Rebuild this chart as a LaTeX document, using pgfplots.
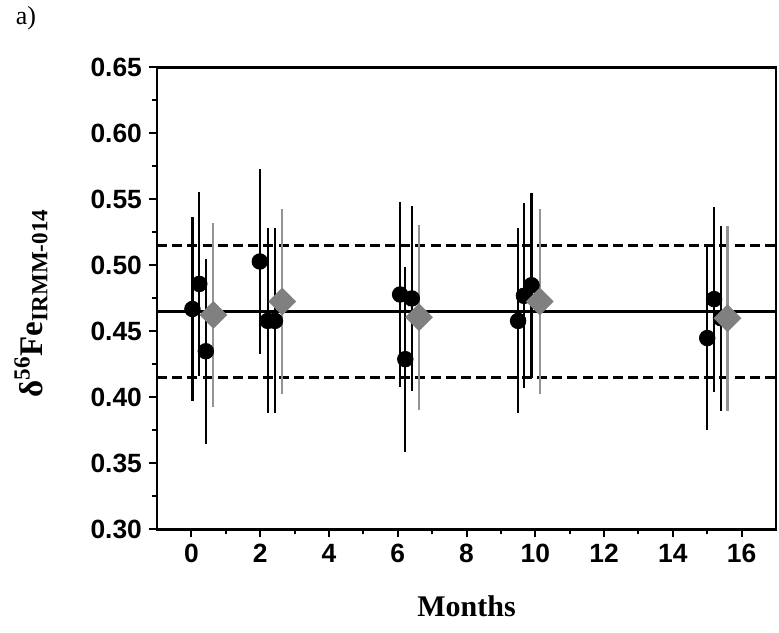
\documentclass[border=0pt]{standalone}
\usepackage{pgfplots}
\pgfplotsset{compat=1.18}
\usepackage{pgfplotstable}
\usepackage{fontspec}
\setmainfont{Liberation Serif}
\newfontfamily\arialfont{Liberation Sans}
\pgfplotstableread{
x y ey
0.03 0.467 0.07
0.23 0.486 0.07
0.42 0.435 0.07
1.99 0.503 0.07
2.22 0.458 0.07
2.43 0.458 0.07
6.07 0.478 0.07
6.22 0.429 0.07
6.41 0.475 0.07
9.50 0.458 0.07
9.67 0.477 0.07
9.89 0.485 0.07
15.00 0.445 0.07
15.20 0.4745 0.07
15.40 0.460 0.07
}\blackdata
\pgfplotstableread{
x y ey
0.64 0.4625 0.07
2.64 0.4727 0.07
6.62 0.4608 0.07
10.13 0.4727 0.07
15.59 0.460 0.07
}\graydata
\begin{document}
\begin{tikzpicture}
\begin{axis}[
  scale only axis,
  width=309.5pt, height=231pt,
  xmin=-1, xmax=17, ymin=0.30, ymax=0.65,
  xtick={0,2,...,16},
  ytick={0.30,0.35,...,0.66},
  minor x tick num=1,
  minor y tick num=1,
  tick align=outside,
  xtick pos=bottom, ytick pos=left,
  major tick length=4pt, minor tick length=2.5pt,
  every tick/.style={black, line width=1pt},
  axis line style={line width=1.4pt},
  /pgf/number format/assume math mode=true,
  yticklabel style={/pgf/number format/.cd, fixed, fixed zerofill, precision=2},
  ticklabel style={font=\arialfont\bfseries\fontsize{13.2}{15}\selectfont},
  xlabel={\textbf{Months}},
  ylabel={\textbf{δ\textsuperscript{56}Fe\textsubscript{IRMM-014}}},
  every axis x label/.style={at={(axis description cs:0.5,0)}, anchor=center, yshift=-38.5pt, font=\fontsize{15}{17}\selectfont},
  every axis y label/.style={at={(axis description cs:0,0.49)}, anchor=center, rotate=90, yshift=63pt, font=\fontsize{16.5}{18}\selectfont},
  clip=false,
]
\addplot[black, line width=1.2pt, forget plot] coordinates {(-1,0.465) (17,0.465)};
\addplot[black, line width=1.2pt, dash pattern=on 5pt off 2.6pt, forget plot] coordinates {(-1,0.515) (17,0.515)};
\addplot[black, line width=1.2pt, dash pattern=on 5pt off 2.6pt, forget plot] coordinates {(-1,0.415) (17,0.415)};
\addplot[only marks, mark=*, mark size=3.9pt, mark options={fill=black, draw=black},
  error bars/.cd, y dir=both, y explicit, error mark=none,
  error bar style={line width=1.1pt, black}]
  table[x=x, y=y, y error=ey] {\blackdata};
\addplot[only marks, mark=square*, mark size=4.7pt, mark options={rotate=45, fill=black!50, draw=black!50},
  error bars/.cd, y dir=both, y explicit, error mark=none,
  error bar style={line width=1.1pt, black!42}]
  table[x=x, y=y, y error=ey] {\graydata};
\end{axis}
\node[font=\fontsize{13}{15}\selectfont] at ([xshift=-65.5pt,yshift=24.5pt]current axis.north west) {a)};
\path[use as bounding box] ([xshift=-78.5pt,yshift=-51.5pt]current axis.south west) rectangle ([xshift=1.5pt,yshift=33pt]current axis.north east);
\end{tikzpicture}
\end{document}
